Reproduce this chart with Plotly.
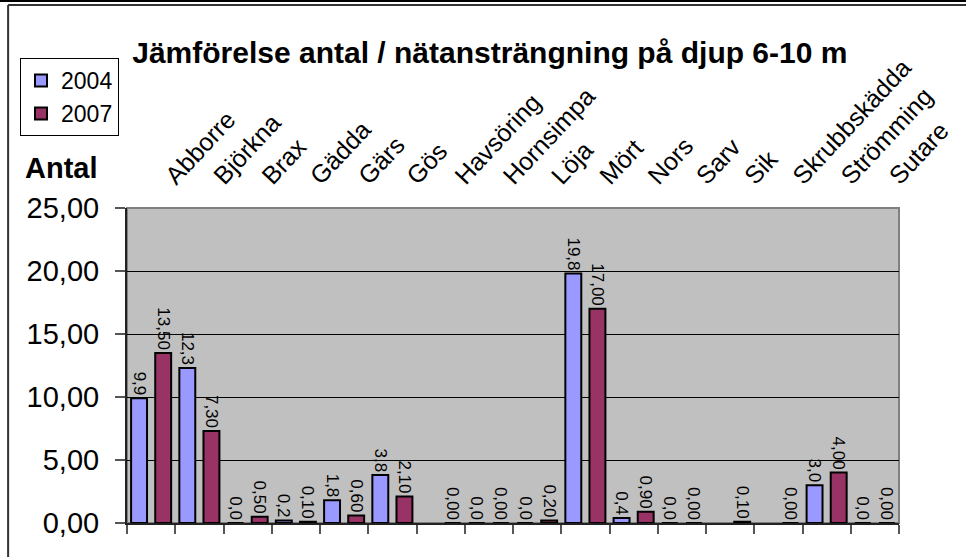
import plotly.graph_objects as go

categories = ["Abborre", "Björkna", "Brax", "Gädda", "Gärs", "Gös", "Havsöring",
              "Hornsimpa", "Löja", "Mört", "Nors", "Sarv", "Sik", "Skrubbskädda",
              "Strömming", "Sutare"]
v2004 = [9.9, 12.3, 0.0, 0.2, 1.8, 3.8, None, 0.0, 0.0, 19.8, 0.4, 0.0, None, None, 3.0, 0.0]
v2007 = [13.5, 7.3, 0.5, 0.1, 0.6, 2.1, 0.0, 0.0, 0.2, 17.0, 0.9, 0.0, 0.1, 0.0, 4.0, 0.0]
series_names = ["2004", "2007"]
y_ticks = [0, 5, 10, 15, 20, 25]

FONT = "Arial, 'Liberation Sans', sans-serif"

fig = go.Figure()
fig.add_trace(go.Bar(
    x=categories, y=v2004, name=series_names[0],
    marker=dict(color="#9999FF", line=dict(color="black", width=2)),
    texttemplate="%{y:.1f}", textposition="outside", textangle=90,
    constraintext="none", cliponaxis=False,
    textfont=dict(family=FONT, size=17, color="black"),
))
fig.add_trace(go.Bar(
    x=categories, y=v2007, name=series_names[1],
    marker=dict(color="#993366", line=dict(color="black", width=2)),
    texttemplate="%{y:.2f}", textposition="outside", textangle=90,
    constraintext="none", cliponaxis=False,
    textfont=dict(family=FONT, size=17, color="black"),
))
# carrier for the top category labels
fig.add_trace(go.Scatter(x=categories, y=v2007, xaxis="x2", mode="none",
                         showlegend=False, hoverinfo="skip"))

fig.update_layout(
    width=966, height=557,
    margin=dict(l=127, r=60, t=208, b=34),
    paper_bgcolor="white", plot_bgcolor="#C0C0C0",
    separators=",.",
    barmode="group", bargap=0, bargroupgap=0.34,
    font=dict(family=FONT, color="black"),
    title=dict(text="<b>Jämförelse antal / nätansträngning på djup 6-10 m</b>",
               x=0.47, xref="paper", xanchor="center",
               y=1 - 52 / 557, yref="container", yanchor="middle",
               font=dict(size=30, family=FONT, color="black")),
    legend=dict(x=-0.1386, y=1.476, xanchor="left", yanchor="top",
                bgcolor="white", bordercolor="black", borderwidth=1,
                font=dict(size=23, family=FONT, color="black"),
                itemwidth=30, tracegroupgap=0),
    xaxis=dict(type="category", showticklabels=False, ticks="outside",
               tickson="boundaries", ticklen=9, tickcolor="#555555", tickwidth=2,
               showline=True, linecolor="#222222", linewidth=2, showgrid=False,
               zeroline=False),
    xaxis2=dict(type="category", overlaying="x", matches="x", side="top", anchor="y",
                showline=False, ticks="", showgrid=False, tickangle=-47,
                tickfont=dict(size=25, family=FONT, color="black"),
                ticklabelshift=16, ticklabelstandoff=12),
    yaxis=dict(range=[0, 25], tickvals=y_ticks, tickformat=".2f",
               ticks="outside", ticklen=10, tickcolor="#555555", tickwidth=2,
               showline=True, linecolor="#222222", linewidth=2,
               gridcolor="black", gridwidth=1, zeroline=False,
               tickfont=dict(size=29, family=FONT, color="black"),
               ticklabelstandoff=10),
    annotations=[dict(text="<b>Antal</b>", xref="paper", yref="paper",
                      x=-0.1348, y=1.127, xanchor="left", yanchor="middle",
                      showarrow=False, font=dict(size=29, family=FONT, color="black"))],
    shapes=[
        dict(type="rect", xref="paper", yref="paper", x0=0, x1=1, y0=0, y1=1,
             line=dict(color="#808080", width=2), layer="below"),
        dict(type="line", xref="paper", yref="paper", x0=-0.2, x1=1.2,
             y0=(523 - 1) / 315, y1=(523 - 1) / 315,
             line=dict(color="black", width=2)),
        dict(type="line", xref="paper", yref="paper", x0=-0.154, x1=1.2,
             y0=(523 - 5) / 315, y1=(523 - 5) / 315,
             line=dict(color="#333333", width=2)),
        dict(type="line", xref="paper", yref="paper", x0=-0.154, x1=-0.154,
             y0=(523 - 5) / 315, y1=-0.2,
             line=dict(color="#333333", width=2)),
    ],
)

fig.write_html("out.html", config={"displayModeBar": False},
               post_script="document.body.style.margin='0';document.body.style.overflow='hidden';")
